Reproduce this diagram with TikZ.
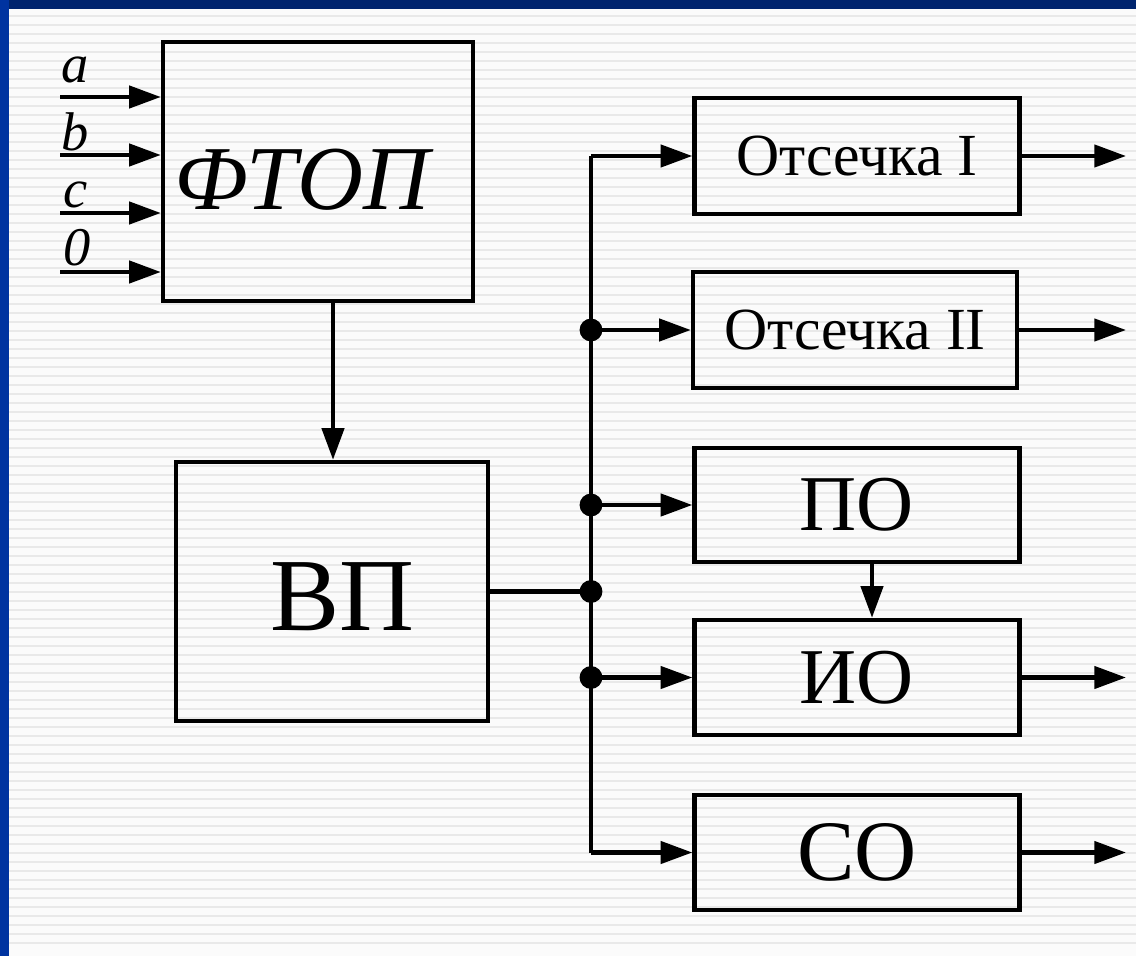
\documentclass[tikz,border=0pt]{standalone}
\usepackage{fontspec}
\setmainfont{Liberation Serif}
\usetikzlibrary{arrows.meta}
\definecolor{topblue}{HTML}{00246E}
\definecolor{leftblue}{HTML}{0033A0}
\definecolor{bg}{HTML}{FBFBFB}
\definecolor{stripe}{HTML}{E9E9E9}
\tikzset{
  blk/.style={draw=black, line width=2.5pt, fill=none, inner sep=0pt},
  conn/.style={line width=2.5pt},
  arr/.style={line width=2.5pt, -{Triangle[length=18pt,width=12.5pt]}},
  dot/.style={circle, fill=black, inner sep=0pt, minimum size=13pt},
  inlbl/.style={anchor=base west, inner sep=0pt, font=\fontsize{31}{31}\selectfont\itshape}
}
\begin{document}
\begin{tikzpicture}[x=0.02cm,y=-0.02cm]
\useasboundingbox (0,0) rectangle (1136,956);
% background
\fill[bg] (0,0) rectangle (1136,956);
\foreach \yy in {16,25,...,950} \draw[stripe, line width=1.1pt] (9,\yy) -- (1136,\yy);
\fill[topblue] (0,0) rectangle (1136,9);
\fill[leftblue] (0,0) rectangle (9,956);

% blocks
\node[blk, minimum width=6.2cm, minimum height=5.18cm] (ftop) at (318,171.5) {};
\node[inner sep=0pt, font=\fontsize{52}{52}\selectfont\itshape] (ftoptxt) at (302,180) {ФТОП};
\node[blk, minimum width=6.24cm, minimum height=5.18cm] (vp) at (332,591.5) {};
\node[inner sep=0pt, font=\fontsize{59}{59}\selectfont] (vptxt) at (342,597) {ВП};
\node[blk, minimum width=6.5cm, minimum height=2.32cm, font=\fontsize{34}{34}\selectfont] (o1) at (857,156) {Отсечка I};
\node[blk, minimum width=6.48cm, minimum height=2.32cm, font=\fontsize{34}{34}\selectfont] (o2) at (855,330) {Отсечка II};
\node[blk, minimum width=6.5cm, minimum height=2.28cm, font=\fontsize{45}{45}\selectfont] (po) at (857,505) {\raisebox{-0.12cm}{ПО}};
\node[blk, minimum width=6.5cm, minimum height=2.3cm, font=\fontsize{45}{45}\selectfont] (io) at (857,677.5) {ИО};
\node[blk, minimum width=6.5cm, minimum height=2.3cm, font=\fontsize{49}{49}\selectfont] (so) at (857,852.5) {\raisebox{-0.08cm}{СО}};

% inputs
\coordinate (ia) at (60,97);
\coordinate (ib) at (60,155);
\coordinate (ic) at (60,213);
\coordinate (i0) at (60,272);
\draw[arr] (ia) -- (ia -| ftop.west);
\draw[arr] (ib) -- (ib -| ftop.west);
\draw[arr] (ic) -- (ic -| ftop.west);
\draw[arr] (i0) -- (i0 -| ftop.west);
\node[inlbl] (la) at (61,83) {a};
\node[inlbl] (lb) at (61,151) {b};
\node[inlbl] (lc) at (63,208) {c};
\node[inlbl] (l0) at (63,266) {0};

% ФТОП -> ВП
\draw[arr] (ftop.south -| 333,0) -- (vp.north -| 333,0);

% bus
\coordinate (bt) at (591,156);
\coordinate (bb) at (591,852.5);
\node[dot] (d2) at (591,330) {};
\node[dot] (d3) at (591,505) {};
\node[dot] (d4) at (591,591.5) {};
\node[dot] (d5) at (591,677.5) {};
\draw[conn] (bt) -- (bb);
\draw[conn] (vp.east) -- (d4.center);
\draw[arr] (bt) -- (o1.west);
\draw[arr] (d2.center) -- (o2.west);
\draw[arr] (d3.center) -- (po.west);
\draw[arr] (d5.center) -- (io.west);
\draw[arr] (bb) -- (so.west);

% ПО -> ИО
\draw[arr] (po.south -| 872,0) -- (io.north -| 872,0);

% outputs
\coordinate (q1) at (1126,156);
\coordinate (q2) at (1126,330);
\coordinate (q4) at (1126,677.5);
\coordinate (q5) at (1126,852.5);
\draw[arr] (o1.east) -- (q1);
\draw[arr] (o2.east) -- (q2);
\draw[arr] (io.east) -- (q4);
\draw[arr] (so.east) -- (q5);
\end{tikzpicture}
\end{document}
